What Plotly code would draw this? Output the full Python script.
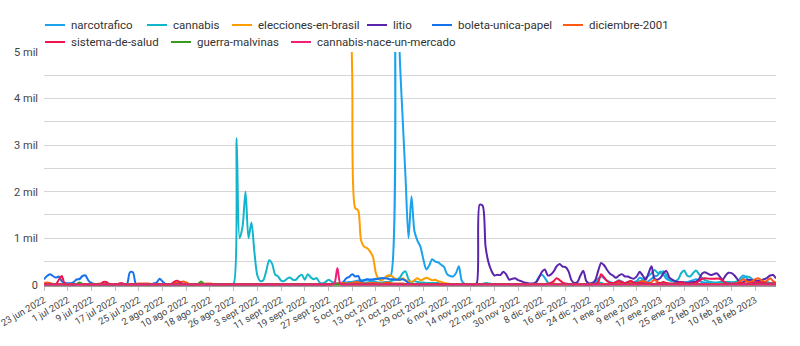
import plotly.graph_objects as go
import pandas as pd

# ---------------- data (daily, 23 jun 2022 -> 25 feb 2023) ----------------
start_date = "2022-06-23"

narcotrafico = [
    10, 10, 10, 10, 10, 10, 10, 10,
    10, 10, 10, 10, 10, 10, 10, 10,
    10, 10, 10, 10, 10, 10, 10, 10,
    10, 10, 10, 10, 10, 10, 10, 10,
    10, 10, 10, 10, 10, 10, 10, 10,
    10, 10, 10, 10, 10, 10, 10, 10,
    10, 10, 10, 10, 10, 10, 10, 10,
    10, 10, 10, 10, 10, 10, 10, 10,
    10, 10, 10, 10, 10, 10, 10, 10,
    10, 10, 10, 10, 10, 10, 10, 10,
    10, 10, 10, 10, 10, 10, 10, 10,
    10, 10, 10, 10, 10, 10, 15, 20,
    20, 20, 30, 30, 40, 50, 50, 60,
    60, 80, 90, 100, 100, 110, 110, 120,
    130, 140, 140, 150, 180, 200, 11000, 9000,
    5000, 3600, 2300, 1000, 1900, 1150, 950, 820,
    550, 330, 420, 550, 500, 480, 430, 380,
    230, 190, 180, 250, 400, 80, 20, 15,
    10, 10, 10, 10, 10, 20, 20, 15,
    10, 10, 10, 10, 10, 10, 10, 10,
    10, 10, 10, 10, 15, 20, 60, 170,
    215, 150, 50, 20, 15, 15, 20, 30,
    20, 15, 15, 15, 20, 20, 15, 15,
    15, 20, 60, 130, 180, 140, 90, 60,
    40, 60, 100, 70, 40, 60, 80, 60,
    80, 150, 120, 60, 80, 130, 180, 200,
    285, 220, 130, 100, 80, 60, 60, 60,
    50, 60, 80, 100, 120, 90, 60, 50,
    40, 40, 30, 30, 40, 50, 60, 60,
    50, 40, 40, 150, 200, 150, 80, 60,
    50, 40, 40, 50, 60, 40, 30, 30,
]

cannabis = [
    10, 10, 10, 10, 10, 10, 10, 10,
    10, 10, 10, 10, 10, 10, 10, 10,
    10, 10, 10, 10, 10, 10, 10, 10,
    10, 10, 10, 10, 10, 10, 10, 10,
    10, 10, 10, 10, 10, 10, 10, 10,
    10, 10, 10, 10, 10, 10, 10, 10,
    10, 10, 10, 10, 10, 10, 10, 10,
    10, 10, 10, 10, 10, 10, 15, 20,
    30, 3150, 1000, 1250, 2000, 1000, 1340, 700,
    200, 80, 100, 300, 530, 450, 220, 180,
    90, 80, 130, 157, 110, 110, 180, 215,
    110, 230, 160, 120, 144, 50, 30, 60,
    110, 70, 40, 30, 30, 30, 40, 50,
    50, 60, 60, 50, 50, 50, 60, 60,
    60, 50, 50, 60, 60, 80, 100, 120,
    150, 250, 290, 120, 60, 80, 60, 50,
    50, 40, 40, 40, 40, 40, 30, 30,
    20, 20, 20, 20, 20, 20, 20, 20,
    20, 20, 20, 20, 20, 40, 30, 20,
    20, 20, 20, 20, 20, 20, 20, 20,
    20, 20, 20, 20, 20, 20, 20, 20,
    20, 20, 20, 20, 20, 20, 20, 20,
    20, 20, 20, 20, 20, 20, 20, 20,
    20, 20, 40, 60, 40, 20, 20, 20,
    20, 30, 40, 40, 30, 40, 50, 50,
    60, 80, 100, 150, 200, 250, 320, 260,
    250, 290, 200, 100, 80, 80, 120, 250,
    310, 200, 180, 250, 310, 230, 150, 100,
    80, 60, 50, 50, 60, 60, 60, 50,
    50, 60, 80, 100, 150, 180, 170, 120,
    80, 60, 60, 50, 50, 40, 40, 40,
]

# elecciones-en-brasil only has data from 4 oct 2022 onwards
elecciones_en_brasil = [
    8000,
    4500, 1650, 1600, 950, 820, 790, 720, 600,
    250, 120, 100, 150, 200, 200, 150, 120,
    100, 144, 100, 80, 60, 100, 140, 100,
    120, 150, 130, 100, 107, 80, 60, 40,
    30, 20, 20, 20, 20, 20, 20, 20,
    20, 20, 20, 20, 20, 20, 20, 20,
    20, 20, 20, 20, 20, 20, 20, 20,
    20, 20, 20, 20, 20, 20, 20, 20,
    20, 20, 20, 20, 20, 20, 20, 20,
    20, 20, 20, 20, 20, 20, 20, 20,
    20, 20, 20, 20, 20, 20, 20, 20,
    20, 20, 20, 20, 20, 20, 20, 20,
    20, 20, 20, 20, 20, 20, 20, 20,
    20, 20, 20, 20, 20, 20, 20, 20,
    20, 20, 20, 20, 20, 20, 20, 20,
    20, 20, 20, 20, 20, 20, 20, 20,
    20, 20, 20, 20, 20, 20, 20, 20,
    20, 20, 20, 20, 20, 20, 20, 20,
]

litio = [
    10, 10, 10, 10, 10, 10, 10, 10,
    10, 10, 10, 10, 10, 10, 10, 10,
    10, 10, 10, 10, 10, 10, 10, 10,
    10, 10, 10, 10, 10, 10, 10, 10,
    10, 10, 10, 10, 10, 10, 10, 10,
    10, 10, 10, 10, 10, 10, 10, 10,
    10, 10, 10, 10, 10, 10, 10, 10,
    10, 10, 10, 10, 10, 10, 10, 10,
    10, 10, 10, 10, 10, 10, 10, 10,
    10, 10, 10, 10, 10, 10, 10, 10,
    10, 10, 10, 10, 10, 10, 10, 10,
    10, 10, 10, 10, 10, 10, 10, 10,
    10, 10, 10, 10, 10, 10, 10, 10,
    10, 10, 10, 10, 10, 10, 10, 10,
    10, 10, 10, 10, 10, 10, 10, 10,
    10, 10, 10, 10, 10, 10, 10, 10,
    10, 10, 10, 10, 10, 10, 10, 10,
    10, 10, 10, 10, 10, 10, 10, 10,
    10, 10, 30, 1720, 1700, 820, 480, 300,
    200, 215, 210, 280, 220, 110, 130, 140,
    100, 80, 50, 40, 30, 30, 50, 150,
    280, 330, 200, 220, 290, 400, 450, 390,
    380, 290, 100, 40, 60, 200, 300, 80,
    30, 40, 100, 300, 470, 420, 320, 240,
    200, 150, 200, 230, 180, 180, 150, 130,
    180, 280, 200, 110, 250, 400, 130, 110,
    150, 250, 300, 160, 110, 80, 60, 60,
    50, 40, 50, 60, 70, 120, 240, 270,
    240, 210, 230, 250, 180, 110, 200, 260,
    250, 200, 120, 40, 60, 100, 110, 100,
    100, 90, 100, 120, 150, 200, 210, 140,
]

boleta_unica_papel = [
    120, 190, 230, 190, 155, 180, 75, 40,
    35, 35, 60, 115, 125, 190, 200, 90,
    40, 20, 15, 10, 10, 10, 10, 10,
    10, 10, 10, 15, 20, 270, 270, 20,
    10, 10, 10, 10, 15, 30, 50, 130,
    70, 20, 15, 10, 10, 10, 10, 10,
    10, 10, 10, 10, 10, 10, 10, 10,
    10, 10, 10, 10, 10, 10, 10, 10,
    10, 10, 10, 10, 10, 10, 10, 10,
    10, 10, 10, 10, 10, 10, 10, 10,
    10, 10, 10, 10, 10, 10, 10, 10,
    10, 10, 10, 10, 10, 10, 10, 10,
    20, 20, 20, 20, 30, 60, 140, 170,
    230, 180, 190, 70, 100, 120, 110, 110,
    120, 130, 140, 140, 130, 120, 120, 110,
    110, 120, 90, 40, 20, 15, 10, 10,
    10, 10, 10, 10, 10, 10, 10, 10,
    10, 10, 10, 10, 10, 10, 10, 10,
    10, 10, 10, 10, 10, 10, 10, 10,
    10, 10, 10, 10, 10, 10, 10, 10,
    10, 10, 10, 10, 10, 10, 10, 10,
    10, 10, 10, 10, 10, 10, 10, 10,
    10, 10, 10, 10, 10, 10, 10, 10,
    10, 10, 10, 10, 10, 10, 10, 10,
    10, 10, 10, 10, 10, 10, 10, 10,
    10, 10, 20, 30, 20, 10, 10, 10,
    10, 10, 10, 10, 10, 10, 10, 10,
    10, 10, 10, 10, 10, 10, 10, 10,
    10, 10, 10, 10, 10, 10, 10, 10,
    10, 10, 10, 10, 10, 10, 10, 10,
    10, 10, 10, 10, 10, 10, 10, 10,
]

diciembre_2001 = [
    30, 50, 40, 20, 10, 10, 10, 10,
    10, 10, 10, 10, 10, 10, 10, 10,
    10, 10, 20, 30, 20, 10, 10, 10,
    10, 10, 10, 10, 10, 10, 10, 20,
    30, 30, 30, 30, 20, 10, 10, 10,
    10, 10, 10, 20, 40, 50, 60, 70,
    50, 20, 10, 10, 10, 10, 20, 30,
    30, 20, 10, 10, 10, 10, 10, 10,
    10, 10, 10, 10, 10, 10, 10, 10,
    10, 10, 10, 10, 20, 10, 10, 10,
    10, 10, 10, 10, 10, 10, 10, 10,
    10, 10, 10, 10, 10, 10, 10, 10,
    10, 10, 20, 30, 40, 40, 30, 30,
    40, 60, 50, 40, 30, 30, 40, 40,
    40, 30, 30, 40, 50, 40, 30, 30,
    30, 30, 20, 20, 20, 20, 20, 20,
    20, 20, 20, 20, 20, 20, 20, 20,
    20, 20, 20, 20, 20, 20, 20, 20,
    20, 20, 20, 20, 20, 20, 20, 20,
    20, 20, 20, 20, 20, 20, 20, 20,
    20, 20, 20, 20, 20, 20, 20, 20,
    20, 20, 30, 30, 30, 20, 20, 20,
    20, 20, 20, 20, 20, 20, 20, 20,
    20, 20, 20, 20, 20, 20, 20, 20,
    20, 30, 40, 30, 20, 30, 40, 30,
    40, 60, 80, 60, 40, 60, 107, 60,
    40, 30, 20, 20, 20, 20, 20, 20,
    20, 20, 20, 20, 20, 20, 20, 20,
    20, 20, 20, 20, 20, 20, 20, 20,
    20, 20, 40, 80, 120, 80, 60, 80,
    120, 140, 100, 60, 90, 140, 80, 40,
]

sistema_de_salud = [
    10, 10, 10, 10, 10, 110, 190, 15,
    10, 10, 10, 10, 10, 10, 10, 10,
    10, 10, 10, 10, 60, 60, 20, 10,
    10, 20, 40, 20, 10, 10, 10, 10,
    10, 10, 10, 10, 10, 10, 10, 10,
    10, 10, 10, 20, 70, 90, 50, 20,
    10, 10, 10, 10, 10, 10, 10, 10,
    10, 10, 10, 10, 10, 10, 10, 10,
    10, 10, 10, 10, 10, 10, 10, 10,
    10, 10, 10, 10, 10, 10, 10, 10,
    10, 10, 10, 10, 10, 10, 10, 10,
    10, 10, 10, 10, 10, 10, 10, 10,
    10, 10, 10, 10, 10, 10, 10, 10,
    10, 10, 10, 10, 10, 10, 10, 10,
    10, 10, 10, 10, 10, 10, 10, 10,
    10, 10, 10, 10, 10, 10, 10, 10,
    10, 10, 10, 10, 10, 10, 10, 10,
    10, 10, 10, 10, 10, 10, 10, 10,
    10, 10, 10, 10, 10, 10, 10, 10,
    10, 10, 10, 10, 10, 10, 10, 10,
    10, 10, 10, 10, 10, 10, 10, 10,
    10, 10, 20, 40, 80, 140, 100, 50,
    30, 20, 10, 10, 10, 10, 10, 10,
    10, 10, 20, 60, 230, 160, 80, 40,
    40, 60, 80, 60, 40, 60, 80, 50,
    40, 40, 40, 30, 30, 20, 20, 30,
    40, 60, 40, 30, 30, 30, 40, 50,
    40, 30, 30, 30, 40, 80, 130, 140,
    135, 130, 130, 135, 130, 90, 40, 30,
    30, 30, 30, 40, 40, 30, 30, 40,
    50, 60, 50, 40, 30, 30, 30, 30,
]

guerra_malvinas = [
    5, 5, 5, 5, 5, 5, 5, 5,
    5, 5, 5, 20, 50, 20, 5, 5,
    5, 5, 5, 5, 5, 5, 5, 5,
    5, 5, 5, 5, 5, 5, 5, 5,
    5, 5, 5, 5, 5, 5, 5, 5,
    5, 5, 5, 5, 5, 5, 5, 5,
    5, 5, 5, 5, 20, 70, 20, 5,
    5, 5, 5, 5, 5, 5, 5, 5,
    5, 5, 5, 5, 5, 5, 5, 5,
    5, 5, 5, 5, 5, 5, 5, 5,
    5, 5, 5, 5, 5, 5, 5, 5,
    5, 5, 5, 5, 5, 5, 5, 5,
    5, 5, 5, 5, 5, 5, 5, 5,
    5, 5, 5, 5, 5, 5, 5, 5,
    5, 5, 5, 5, 5, 5, 5, 5,
    5, 5, 5, 5, 5, 5, 5, 5,
    5, 5, 5, 5, 5, 5, 5, 5,
    5, 5, 5, 5, 5, 5, 5, 5,
    5, 5, 5, 5, 5, 5, 5, 5,
    5, 5, 5, 5, 5, 5, 5, 5,
    5, 5, 5, 5, 5, 5, 5, 5,
    5, 5, 5, 5, 5, 5, 5, 5,
    5, 5, 5, 5, 5, 5, 5, 5,
    5, 5, 5, 5, 5, 5, 5, 5,
    5, 5, 5, 5, 5, 5, 5, 5,
    5, 5, 5, 5, 5, 5, 5, 5,
    5, 5, 5, 5, 5, 5, 5, 5,
    5, 5, 5, 5, 5, 5, 5, 5,
    5, 5, 5, 5, 5, 5, 5, 5,
    5, 5, 5, 5, 5, 5, 5, 5,
    5, 5, 5, 5, 5, 5, 5, 5,
]

cannabis_nace_un_mercado = [
    5, 5, 5, 5, 5, 5, 5, 5,
    5, 5, 5, 5, 5, 5, 5, 5,
    5, 5, 5, 5, 5, 5, 5, 5,
    5, 5, 5, 5, 5, 5, 5, 5,
    5, 5, 5, 5, 5, 5, 5, 5,
    5, 5, 5, 5, 5, 5, 5, 5,
    5, 5, 5, 5, 5, 5, 5, 5,
    5, 5, 5, 5, 5, 5, 5, 5,
    5, 5, 5, 5, 5, 5, 5, 5,
    5, 5, 5, 5, 5, 5, 5, 5,
    5, 5, 5, 5, 5, 5, 5, 5,
    5, 5, 5, 5, 5, 5, 5, 5,
    5, 5, 30, 360, 20, 5, 5, 5,
    5, 5, 5, 5, 5, 5, 5, 5,
    5, 5, 5, 5, 5, 5, 5, 5,
    5, 5, 5, 5, 5, 5, 5, 5,
    5, 5, 5, 5, 5, 5, 5, 5,
    5, 5, 5, 5, 5, 5, 5, 5,
    5, 5, 5, 5, 5, 5, 5, 5,
    5, 5, 5, 5, 5, 5, 5, 5,
    5, 5, 5, 5, 5, 5, 5, 5,
    5, 5, 5, 5, 5, 5, 5, 5,
    5, 5, 5, 5, 5, 5, 5, 5,
    5, 5, 5, 5, 5, 5, 5, 5,
    5, 5, 5, 5, 5, 5, 5, 5,
    5, 5, 5, 5, 5, 5, 5, 5,
    5, 5, 5, 5, 5, 5, 5, 5,
    5, 5, 5, 5, 5, 5, 5, 5,
    5, 5, 5, 5, 5, 5, 5, 5,
    5, 5, 5, 5, 5, 5, 5, 5,
    5, 5, 5, 5, 5, 5, 5, 5,
]

tick_dates = [
    "2022-06-23", "2022-07-01", "2022-07-09", "2022-07-17", "2022-07-25",
    "2022-08-02", "2022-08-10", "2022-08-18", "2022-08-26", "2022-09-03",
    "2022-09-11", "2022-09-19", "2022-09-27", "2022-10-05", "2022-10-13",
    "2022-10-21", "2022-10-29", "2022-11-06", "2022-11-14", "2022-11-22",
    "2022-11-30", "2022-12-08", "2022-12-16", "2022-12-24", "2023-01-01",
    "2023-01-09", "2023-01-17", "2023-01-25", "2023-02-02", "2023-02-10",
    "2023-02-18",
]
tick_labels = [
    "23 jun 2022", "1 jul 2022", "9 jul 2022", "17 jul 2022", "25 jul 2022",
    "2 ago 2022", "10 ago 2022", "18 ago 2022", "26 ago 2022", "3 sept 2022",
    "11 sept 2022", "19 sept 2022", "27 sept 2022", "5 oct 2022", "13 oct 2022",
    "21 oct 2022", "29 oct 2022", "6 nov 2022", "14 nov 2022", "22 nov 2022",
    "30 nov 2022", "8 dic 2022", "16 dic 2022", "24 dic 2022", "1 ene 2023",
    "9 ene 2023", "17 ene 2023", "25 ene 2023", "2 feb 2023", "10 feb 2023",
    "18 feb 2023",
]
y_tick_values = [0, 1000, 2000, 3000, 4000, 5000]
y_tick_labels = ["0", "1 mil", "2 mil", "3 mil", "4 mil", "5 mil"]

# ---------------- figure ----------------
W, H = 800, 346
M_L, M_R, M_T, M_B = 44, 24, 52, 60
plot_w = W - M_L - M_R
plot_h = H - M_T - M_B

dates = pd.date_range(start_date, periods=len(narcotrafico), freq="D")

series = [
    ("narcotrafico", narcotrafico, "#1aa3ec"),
    ("cannabis", cannabis, "#12b5cb"),
    ("elecciones-en-brasil", elecciones_en_brasil, "#ff9d00"),
    ("litio", litio, "#5a24ad"),
    ("boleta-unica-papel", boleta_unica_papel, "#1672ec"),
    ("diciembre-2001", diciembre_2001, "#ff5a14"),
    ("sistema-de-salud", sistema_de_salud, "#f0134d"),
    ("guerra-malvinas", guerra_malvinas, "#3a9a1e"),
    ("cannabis-nace-un-mercado", cannabis_nace_un_mercado, "#f21f78"),
]

# manual legend layout (pixel positions of each legend swatch: x, row-y)
legend_pos = [(45, 25), (147, 25), (232, 25), (367, 25), (432, 25), (563, 25),
              (45, 42), (171, 42), (291, 42)]


def px_x(px):
    return (px - M_L) / plot_w


def px_y(py):
    return (H - M_B - py) / plot_h


fig = go.Figure()
shapes, annotations = [], []
for (name, vals, color), (lx, ly) in zip(series, legend_pos):
    fig.add_trace(go.Scatter(
        x=dates[len(dates) - len(vals):], y=vals, name=name, mode="lines",
        line=dict(color=color, width=2, shape="spline", smoothing=0.8),
    ))
    shapes.append(dict(type="line", xref="paper", yref="paper",
                       x0=px_x(lx), x1=px_x(lx + 20), y0=px_y(ly), y1=px_y(ly),
                       line=dict(color=color, width=2)))
    annotations.append(dict(xref="paper", yref="paper", x=px_x(lx + 24), y=px_y(ly),
                            xanchor="left", yanchor="middle", showarrow=False,
                            text=name, font=dict(size=11.5, color="#333333")))

fig.update_layout(
    width=W, height=H,
    margin=dict(l=M_L, r=M_R, t=M_T, b=M_B, autoexpand=False),
    paper_bgcolor="white", plot_bgcolor="white",
    font=dict(family="Roboto, Arial, sans-serif", size=11, color="#444444"),
    showlegend=False,
    shapes=shapes, annotations=annotations,
    xaxis=dict(
        range=[dates[0], dates[-1]], automargin=False,
        tickmode="array", tickvals=tick_dates, ticktext=tick_labels,
        tickangle=-30, showgrid=False, zeroline=False,
        showline=True, linecolor="#9e9e9e", linewidth=1,
        ticks="outside", ticklen=4, tickcolor="#bdbdbd",
        ticklabeloverflow="allow",
        tickfont=dict(size=9.5, color="#444444"),
    ),
    yaxis=dict(
        range=[-25, 5000], automargin=False,
        tickmode="array", tickvals=y_tick_values, ticktext=y_tick_labels,
        showgrid=True, gridcolor="#d6d6d6", gridwidth=1, zeroline=False,
        minor=dict(dtick=500, tick0=0, showgrid=True, gridcolor="#d6d6d6", gridwidth=1),
        ticks="", ticklabelstandoff=5, tickfont=dict(size=11, color="#444444"),
    ),
)

fig.write_html("out.html")
